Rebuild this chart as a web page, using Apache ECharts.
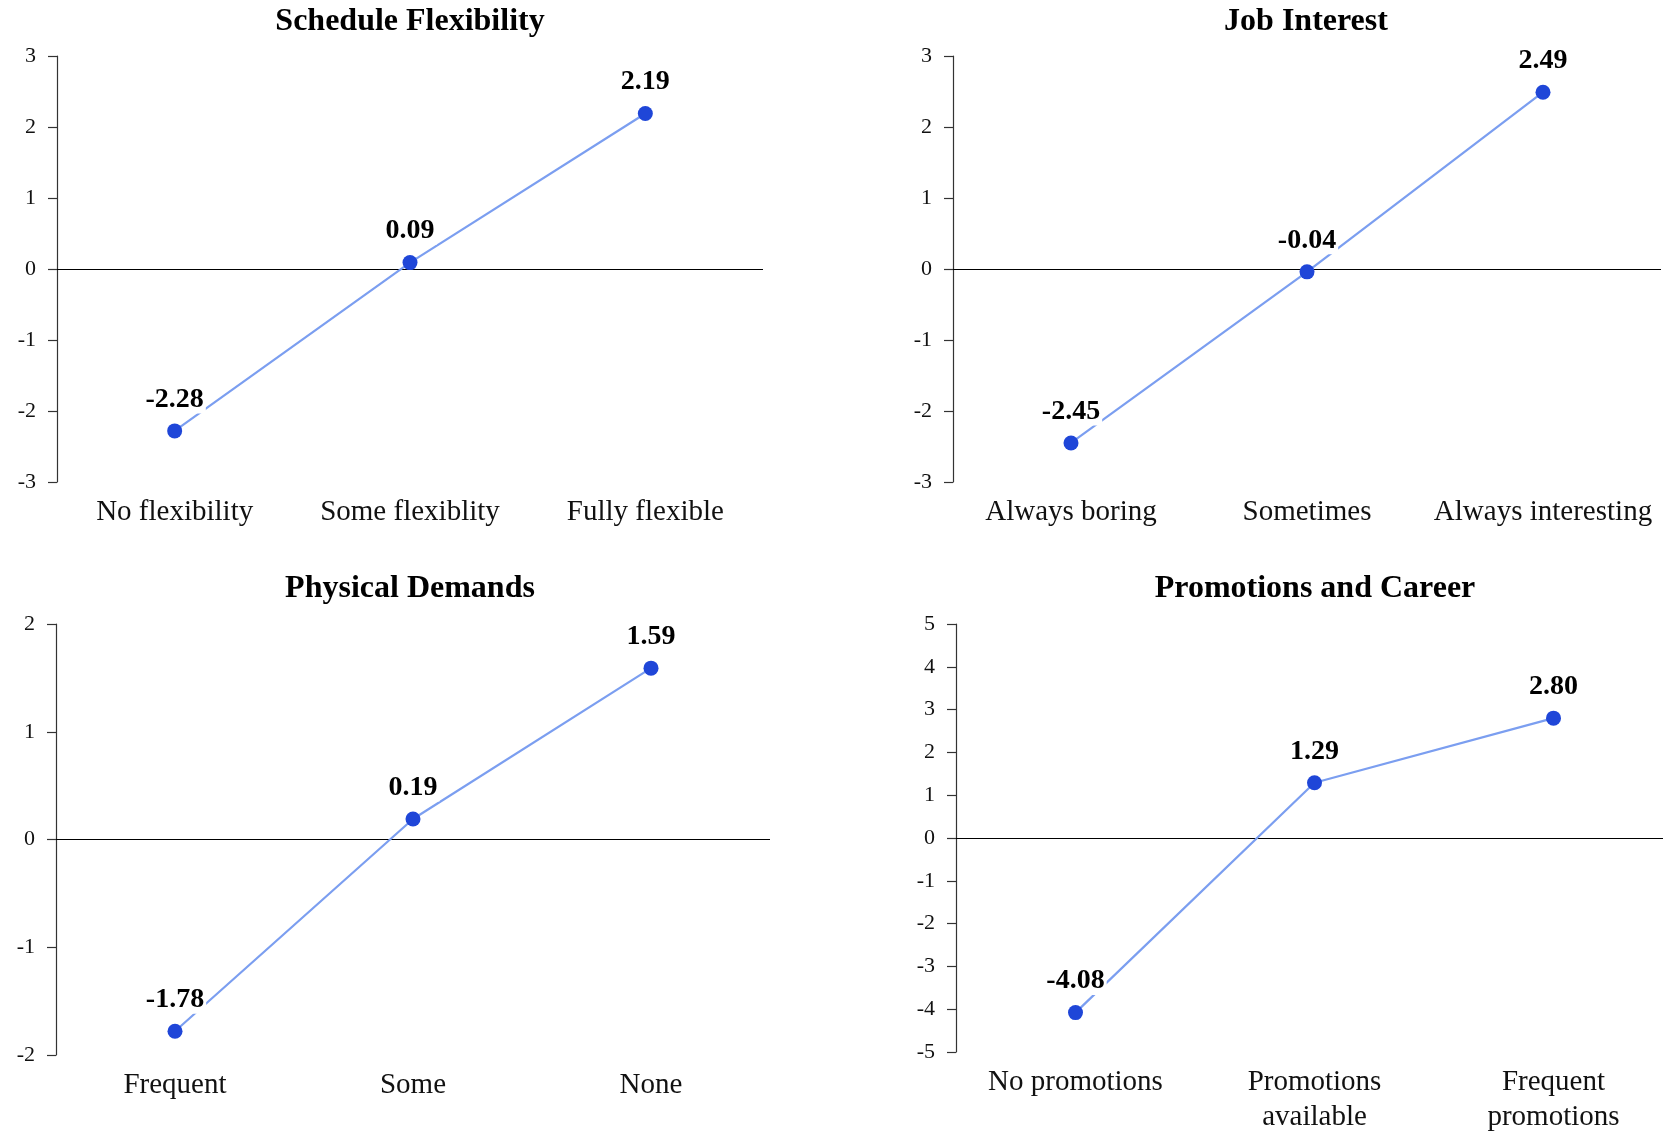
<!DOCTYPE html>
<html>
<head>
<meta charset="utf-8">
<script src="https://cdn.jsdelivr.net/npm/echarts@6/dist/echarts.min.js"></script>
<style>
  html, body { margin: 0; padding: 0; background: #fff; overflow: hidden; width: 1663px; height: 1135px; }
  #chart { width: 1700px; height: 1135px; }
</style>
</head>
<body>
<div id="chart"></div>
<script>
// ---- Data ----
const titles = ['Schedule Flexibility', 'Job Interest', 'Physical Demands', 'Promotions and Career'];

const cats1 = ['No flexibility', 'Some flexiblity', 'Fully flexible'];
const vals1 = [-2.28, 0.09, 2.19];

const cats2 = ['Always boring', 'Sometimes', 'Always interesting'];
const vals2 = [-2.45, -0.04, 2.49];

const cats3 = ['Frequent', 'Some', 'None'];
const vals3 = [-1.78, 0.19, 1.59];

const cats4 = ['No promotions', 'Promotions\navailable', 'Frequent\npromotions'];
const vals4 = [-4.08, 1.29, 2.80];

const yMin = [-3, -3, -2, -5];
const yMax = [3, 3, 2, 5];
const yStep = [1, 1, 1, 1];

// ---- Layout / style ----
const FONT = 'Liberation Serif';
const grids = [
  { left: 57, top: 56, width: 706, height: 426 },
  { left: 953, top: 56, width: 708, height: 426 },
  { left: 56, top: 624, width: 714, height: 431 },
  { left: 956, top: 624, width: 717, height: 432 }
];
const titlePos = [
  { x: 410, y: 6 }, { x: 1306, y: 6 }, { x: 410, y: 573 }, { x: 1315, y: 573 }
];
const allCats = [cats1, cats2, cats3, cats4];
const allVals = [vals1, vals2, vals3, vals4];

const option = {
  animation: false,
  backgroundColor: '#ffffff',
  title: titles.map((t, i) => ({
    text: t,
    left: titlePos[i].x,
    top: titlePos[i].y,
    textAlign: 'center',
    padding: 0,
    textStyle: { fontFamily: FONT, fontWeight: 'bold', fontSize: 32, color: '#000' }
  })),
  grid: grids,
  xAxis: allCats.map((c, i) => ({
    type: 'category',
    gridIndex: i,
    data: c,
    boundaryGap: true,
    axisLine: { show: false, onZero: false },
    axisTick: { show: false },
    splitLine: { show: false },
    axisLabel: {
      interval: 0,
      margin: 13,
      fontFamily: FONT,
      fontSize: 29,
      lineHeight: 35,
      color: '#111'
    }
  })),
  yAxis: allVals.map((v, i) => ({
    type: 'value',
    gridIndex: i,
    min: yMin[i],
    max: yMax[i],
    interval: yStep[i],
    axisLine: { show: true, lineStyle: { color: '#333', width: 1.2 } },
    axisTick: { show: true, length: 9, lineStyle: { color: '#333', width: 1.2 } },
    splitLine: { show: false },
    axisLabel: { margin: 21, fontFamily: FONT, fontSize: 22, color: '#111' }
  })),
  series: allVals.map((v, i) => ({
    type: 'line',
    xAxisIndex: i,
    yAxisIndex: i,
    data: v,
    symbol: 'circle',
    symbolSize: 15,
    itemStyle: { color: '#1f46d8' },
    lineStyle: { color: '#7b9ef0', width: 2.2 },
    z: 3,
    label: {
      show: true,
      position: 'top',
      distance: 10,
      formatter: p => p.value.toFixed(2),
      fontFamily: FONT,
      fontWeight: 'bold',
      fontSize: 28,
      color: '#000',
      backgroundColor: '#fff',
      padding: [0, 2, 0, 2]
    },
    markLine: {
      silent: true,
      symbol: ['none', 'none'],
      label: { show: false },
      lineStyle: { color: '#000', type: 'solid', width: 1.2 },
      data: [{ yAxis: 0 }],
      z: 1
    }
  }))
};

const chart = echarts.init(document.getElementById('chart'), null, { renderer: 'canvas' });
chart.setOption(option);
</script>
</body>
</html>
